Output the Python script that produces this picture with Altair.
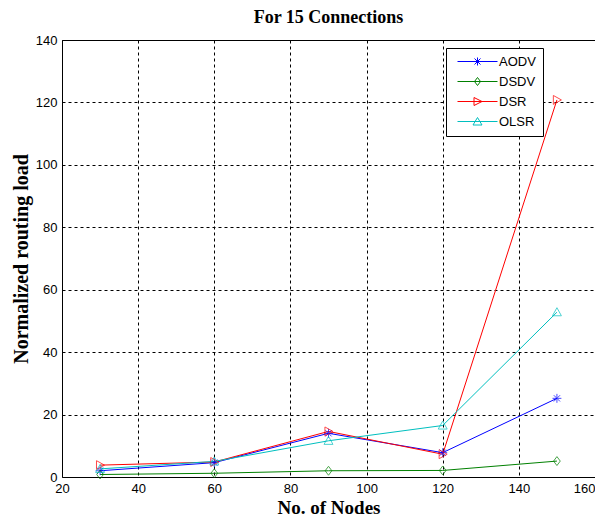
import altair as alt
import pandas as pd

nodes = [30, 60, 90, 120, 150]
series_names = ["AODV", "DSDV", "DSR", "OLSR"]
aodv = [2.0, 4.6, 14.0, 7.8, 25.2]
dsdv = [0.8, 1.2, 2.0, 2.1, 5.1]
dsr = [3.8, 4.8, 14.6, 7.3, 120.8]
olsr = [2.6, 5.0, 11.6, 16.5, 52.8]
x_ticks = [20, 40, 60, 80, 100, 120, 140, 160]
y_ticks = [0, 20, 40, 60, 80, 100, 120, 140]
colors = ["#0000FF", "#008000", "#FF0000", "#00BFBF"]

marker_paths = [
    "M-1,0H1M0,-1V1M-0.7,-0.7L0.7,0.7M-0.7,0.7L0.7,-0.7",
    "M0,-1L0.75,0L0,1L-0.75,0Z",
    "M-0.8,-1L1,0L-0.8,1Z",
    "M0,-1L1,0.8L-1,0.8Z",
]
legend_paths = [
    "M-4,0H4" + p for p in [
        "M-0.8,0H0.8M0,-0.8V0.8M-0.6,-0.6L0.6,0.6M-0.6,0.6L0.6,-0.6",
        "M0,-0.8L0.6,0L0,0.8L-0.6,0Z",
        "M-0.7,-0.8L0.9,0L-0.7,0.8Z",
        "M0,-0.8L0.9,0.7L-0.9,0.7Z",
    ]
]

rows = []
for name, vals in zip(series_names, [aodv, dsdv, dsr, olsr]):
    for n, v in zip(nodes, vals):
        rows.append({"nodes": n, "load": v, "series": name, "legend": name})
df = pd.DataFrame(rows)

x_enc = alt.X("nodes:Q", scale=alt.Scale(domain=[20, 160], nice=False),
              axis=alt.Axis(values=x_ticks, title="No. of Nodes", format="d", labelFlush=False,
                            labelAlign=alt.expr("datum.value >= 160 ? 'right' : 'center'")))
y_enc = alt.Y("load:Q", scale=alt.Scale(domain=[0, 140], nice=False),
              axis=alt.Axis(values=y_ticks, title="Normalized routing load", labelFlush=False))
color_enc = alt.Color("series:N", scale=alt.Scale(domain=series_names, range=colors), legend=None)

legend_def = alt.Legend(title=None, orient="none", legendX=384, legendY=8,
                        symbolOpacity=1, symbolSize=100, symbolStrokeWidth=1,
                        padding=7, symbolOffset=18, labelOffset=15,
                        rowPadding=6, labelFontSize=13, labelFont="Liberation Sans",
                        labelColor="black",
                        strokeColor="black", fillColor="white")

base = alt.Chart(df)
lines = base.mark_line(strokeWidth=1).encode(x=x_enc, y=y_enc, color=color_enc)
points = base.mark_point(size=80, strokeWidth=1, filled=False).encode(
    x=x_enc, y=y_enc, color=color_enc,
    shape=alt.Shape("series:N", scale=alt.Scale(domain=series_names, range=marker_paths), legend=None),
)
legend_layer = base.mark_point(opacity=0, filled=False, strokeWidth=1).encode(
    x=x_enc, y=y_enc,
    color=alt.Color("legend:N", scale=alt.Scale(domain=series_names, range=colors), legend=legend_def),
    shape=alt.Shape("legend:N", scale=alt.Scale(domain=series_names, range=legend_paths), legend=legend_def),
)

chart = alt.layer(lines, points, legend_layer).resolve_scale(
    shape="independent", color="independent"
).properties(
    width=533, height=437,
    autosize=alt.AutoSizeParams(type="none"),
    padding={"left": 54, "top": 32, "right": 0, "bottom": 43},
    title=alt.TitleParams("For 15 Connections", font="Liberation Serif", fontSize=18,
                          fontWeight="bold", color="black", offset=7),
).configure_view(stroke="black", strokeWidth=1).configure_axis(
    grid=True, gridColor="black", gridDash=[3, 3], gridOpacity=1, gridWidth=1,
    domain=False, ticks=False,
    labelFont="Liberation Sans", labelFontSize=13, labelColor="black", labelPadding=5,
    titleFont="Liberation Serif", titleFontSize=19, titleFontWeight="bold", titleColor="black",
).configure_axisY(titlePadding=4, titleFontSize=20).configure_axisX(titlePadding=3)

chart.save("out.html", embed_options={"renderer": "svg", "actions": False})
